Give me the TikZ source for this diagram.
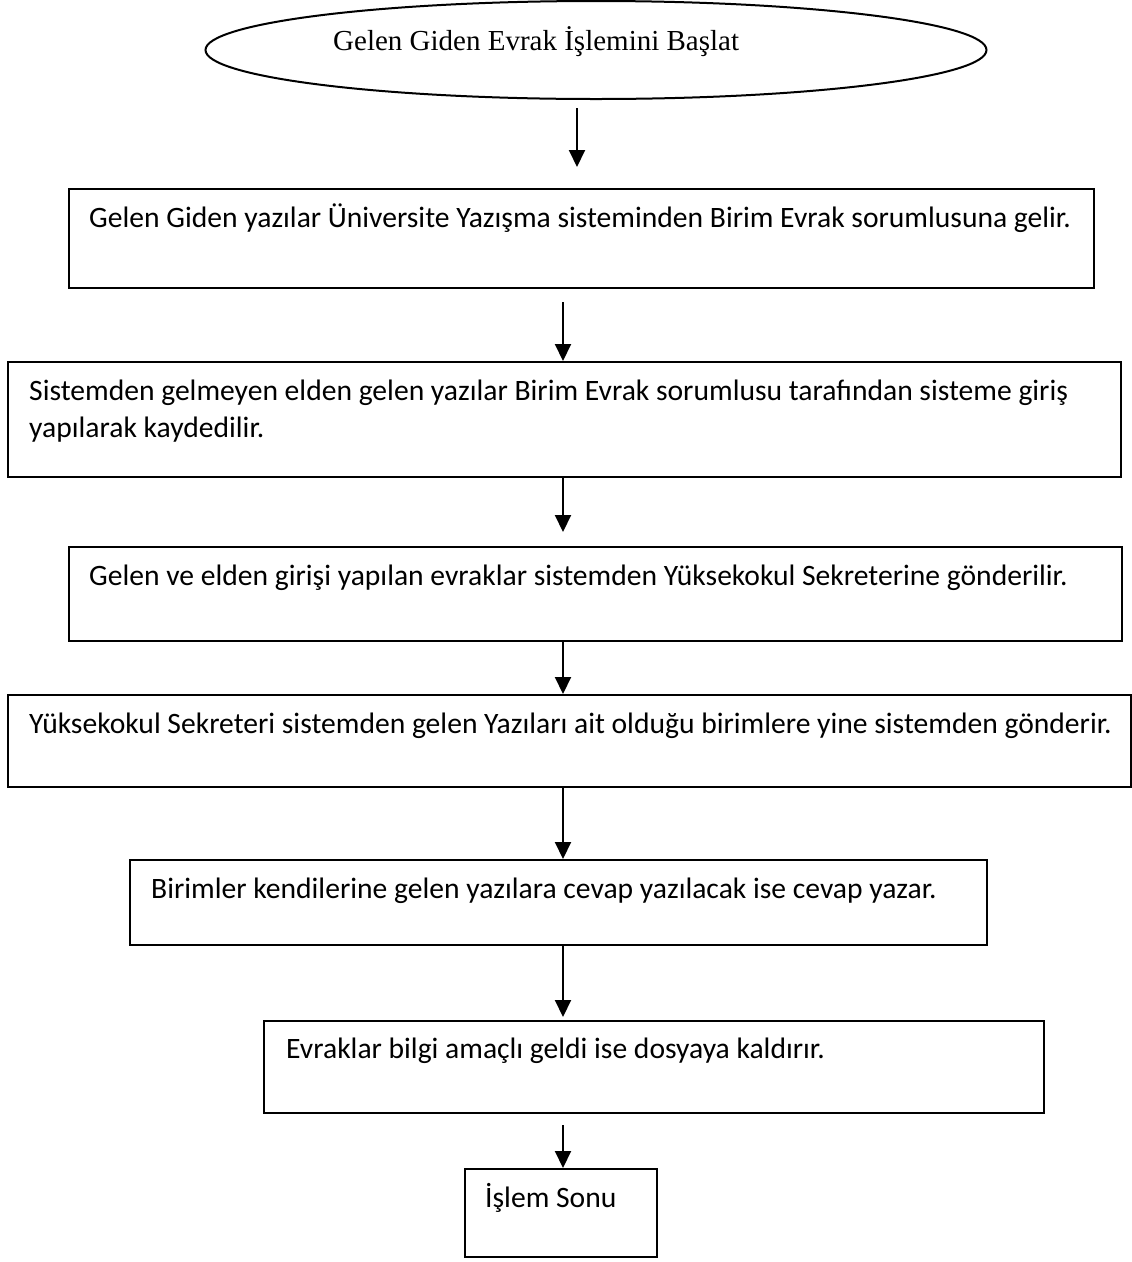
\documentclass[tikz,border=0pt]{standalone}
\usepackage{fontspec}
\setmainfont{Carlito}
\newfontfamily\serifhead{Liberation Serif}
\usetikzlibrary{shapes.geometric,arrows.meta}

\tikzset{
  stepbox/.style={draw, line width=2.2pt, inner sep=0pt, anchor=north west},
  steptext/.style={anchor=base west, inner sep=0pt,
    font=\fontsize{29.6}{37}\selectfont, align=left},
  arr/.style={line width=2pt, -{Triangle[width=16pt,length=17pt]}},
}

\begin{document}
\begin{tikzpicture}[x=1pt,y=-1pt]
  \useasboundingbox (0,0) rectangle (1132,1262);

  % start ellipse
  \node[draw, ellipse, line width=2pt, minimum width=781pt, minimum height=98pt, inner sep=0pt]
    (start) at (596,50) {};
  \node[anchor=base west, inner sep=0pt, font=\serifhead\fontsize{29}{35}\selectfont]
    (starttext) at (333,50) {Gelen Giden Evrak İşlemini Başlat};

  % process boxes
  \node[stepbox, minimum width=1025pt, minimum height=99pt]  (b1) at (68,188) {};
  \node[stepbox, minimum width=1113pt, minimum height=115pt] (b2) at (7,361) {};
  \node[stepbox, minimum width=1053pt, minimum height=94pt]  (b3) at (68,546) {};
  \node[stepbox, minimum width=1123pt, minimum height=92pt]  (b4) at (7,694) {};
  \node[stepbox, minimum width=857pt,  minimum height=85pt]  (b5) at (129,859) {};
  \node[stepbox, minimum width=780pt,  minimum height=92pt]  (b6) at (263,1020) {};
  \node[stepbox, minimum width=192pt,  minimum height=88pt]  (b7) at (464,1168) {};

  % box texts (a two-line node is placed by the baseline of its last line)
  \node[steptext] (t1) at (89,227) {Gelen Giden yazılar Üniversite Yazışma sisteminden Birim Evrak sorumlusuna gelir.};
  \node[steptext] (t2) at (29,437) {Sistemden gelmeyen elden gelen yazılar Birim Evrak sorumlusu tarafından sisteme giriş\\yapılarak kaydedilir.};
  \node[steptext] (t3) at (89,585) {Gelen ve elden girişi yapılan evraklar sistemden Yüksekokul Sekreterine gönderilir.};
  \node[steptext] (t4) at (29,733) {Yüksekokul Sekreteri sistemden gelen Yazıları ait olduğu birimlere yine sistemden gönderir.};
  \node[steptext] (t5) at (151,898) {Birimler kendilerine gelen yazılara cevap yazılacak ise cevap yazar.};
  \node[steptext] (t6) at (286,1058) {Evraklar bilgi amaçlı geldi ise dosyaya kaldırır.};
  \node[steptext] (t7) at (485,1207) {İşlem Sonu};

  % arrow columns
  \coordinate (ax0) at (577,0);
  \coordinate (ax) at (563,0);

  % connectors
  \draw[arr, shorten <=8pt, shorten >=21pt] (start.south -| ax0) -- (b1.north -| ax0);
  \draw[arr, shorten <=13pt] (b1.south -| ax) -- (b2.north -| ax);
  \draw[arr, shorten >=14pt] (b2.south -| ax) -- (b3.north -| ax);
  \draw[arr] (b3.south -| ax) -- (b4.north -| ax);
  \draw[arr] (b4.south -| ax) -- (b5.north -| ax);
  \draw[arr, shorten >=3pt] (b5.south -| ax) -- (b6.north -| ax);
  \draw[arr, shorten <=11pt] (b6.south -| ax) -- (b7.north -| ax);
\end{tikzpicture}
\end{document}
